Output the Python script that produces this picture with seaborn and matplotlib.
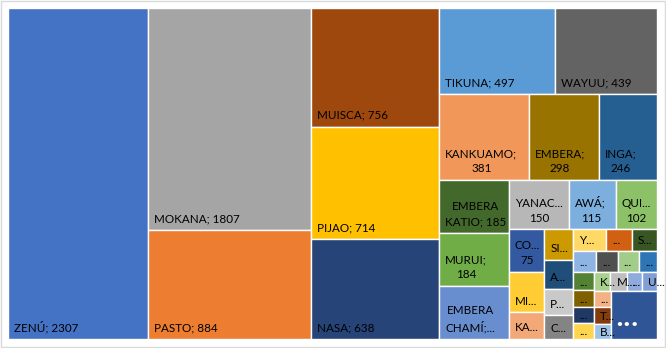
import matplotlib
matplotlib.use("Agg")
import matplotlib.pyplot as plt
from matplotlib.patches import Rectangle
import numpy as np
import pandas as pd
import seaborn as sns

# ---------------- data ----------------
categories = ["ZENÚ", "MOKANA", "PASTO", "MUISCA", "PIJAO", "NASA", "TIKUNA", "WAYUU",
              "KANKUAMO", "EMBERA", "INGA", "EMBERA KATIO", "MURUI", "EMBERA CHAMÍ",
              "YANAC…", "AWÁ", "QUI…", "CO…", "MI…", "KA…", "SI…", "A…", "P…", "C…",
              "Y…", "…a", "S…", "…b", "…c", "…d", "…e", "…f", "…g", "…h", "…i",
              "K…", "M…", "…j", "U…", "…k", "T…", "B…", "otros"]
values = [2307, 1807, 884, 756, 714, 638, 497, 439,
          381, 298, 246, 185, 184, 183,
          150, 115, 102, 75, 71, 47, 44, 42, 38, 34,
          35, 27, 27, 25, 23, 23, 19, 19, 17, 17, 17,
          15, 15, 14, 14, 14, 14, 13, 110]
labels = ["ZENÚ; 2307", "MOKANA; 1807", "PASTO; 884", "MUISCA; 756", "PIJAO; 714",
          "NASA; 638", "TIKUNA; 497", "WAYUU; 439",
          "KANKUAMO;\n381", "EMBERA;\n298", "INGA;\n246", "EMBERA\nKATIO; 185",
          "MURUI;\n184", "EMBERA\nCHAMÍ;...",
          "YANAC...\n150", "AWÁ;\n115", "QUI...\n102", "CO...\n75", "MI...", "KA...",
          "SI...", "A...", "P...", "C...",
          "Y...", "...", "S...", "...", "...", "...", "...", "...", "...", "...", "...",
          "K...", "M...", "...", "U...", "...", "T...", "B...", "•••"]

# ---------------- styles ----------------
colors = ["#4472C4", "#A5A5A5", "#ED7D31", "#9E480E", "#FFC000", "#264478", "#5B9BD5", "#636363",
          "#F1975A", "#997300", "#255E91", "#43682B", "#70AD47", "#698ED0",
          "#B7B7B7", "#7CAFDD", "#8CC168", "#335AA1", "#FFCD33", "#F3A877",
          "#CC9A00", "#1F4E79", "#C9C9C9", "#848484",
          "#FFD966", "#D26012", "#375623", "#8EB4E3", "#505050", "#A1CC89", "#2E75B6",
          "#548235", "#7F6000", "#203864", "#FFD54F",
          "#A9D18E", "#BFBFBF", "#8FAADC", "#7F9FD6", "#F4B183", "#843C0C", "#9DC3E6", "#2F5597"]
text_colors = ["black"] * (len(labels) - 1) + ["white"]

df = pd.DataFrame({"category": categories, "value": values, "label": labels,
                   "color": colors, "text_color": text_colors})

sns.set_theme(style="white")
plt.rcParams["font.family"] = ["Lato", "DejaVu Sans"]
palette = sns.color_palette(df["color"].tolist())

# ---------------- layout (strip treemap, strips laid along the shorter side) ----------------
strip_sizes = [1, 2, 3, 2, 3, 3, 3, 3, 4, 3, 4, 4, 4, 3, 1]


def strip_layout(vals, sizes, x, y, w, h):
    rects = []
    rest = float(sum(vals))
    i = 0
    for n in sizes:
        grp = vals[i:i + n]
        s = float(sum(grp))
        if w >= h:      # vertical strip on the left
            cw = w * s / rest
            yy = y
            for v in grp:
                ch = h * v / s
                rects.append((x, yy, cw, ch))
                yy += ch
            x += cw
            w -= cw
        else:           # horizontal strip on top
            rh = h * s / rest
            xx = x
            for v in grp:
                cw = w * v / s
                rects.append((xx, y, cw, rh))
                xx += cw
            y += rh
            h -= rh
        rest -= s
        i += n
    return rects


FW, FH = 666, 348
fig = plt.figure(figsize=(FW / 100, FH / 100), dpi=100)
fig.patch.set_facecolor("white")
left, top, right, bottom = 8, 8, 657, 339
ax = fig.add_axes([left / FW, 1 - bottom / FH, (right - left) / FW, (bottom - top) / FH])
W, H = right - left, bottom - top
ax.set_xlim(0, W)
ax.set_ylim(H, 0)
ax.axis("off")

rects = strip_layout(df["value"].tolist(), strip_sizes, 0, 0, W, H)

FS = 8.4
for (x, y, w, h), col, lab, tc in zip(rects, palette, df["label"], df["text_color"]):
    ax.add_patch(Rectangle((x, y), w, h, facecolor=col, edgecolor="white", linewidth=1.0))
    if lab == "•••":
        ax.annotate(lab, xy=(x, y + h), xytext=(4, 10), textcoords="offset pixels",
                    ha="left", va="baseline", fontsize=9, fontweight="bold", color=tc,
                    family=["DejaVu Sans"])
        continue
    nlines = lab.count("\n") + 1
    if h >= 25 or nlines > 1:
        ax.annotate(lab, xy=(x, y + h), xytext=(6, 5.8), textcoords="offset pixels",
                    ha="left", va="bottom", multialignment="center", linespacing=1.42,
                    fontsize=FS, color=tc)
    else:
        ax.annotate(lab, xy=(x, y + h / 2), xytext=(6, -4.3), textcoords="offset pixels",
                    ha="left", va="baseline", fontsize=FS, color=tc)

# chart-area border
fig.patches.append(Rectangle((0.5 / FW, 1.5 / FH), (FW - 2) / FW, (FH - 2.5) / FH,
                             transform=fig.transFigure, fill=False,
                             edgecolor="#D9D9D9", linewidth=1.0))

fig.savefig("out.png", dpi=100, facecolor="white")
